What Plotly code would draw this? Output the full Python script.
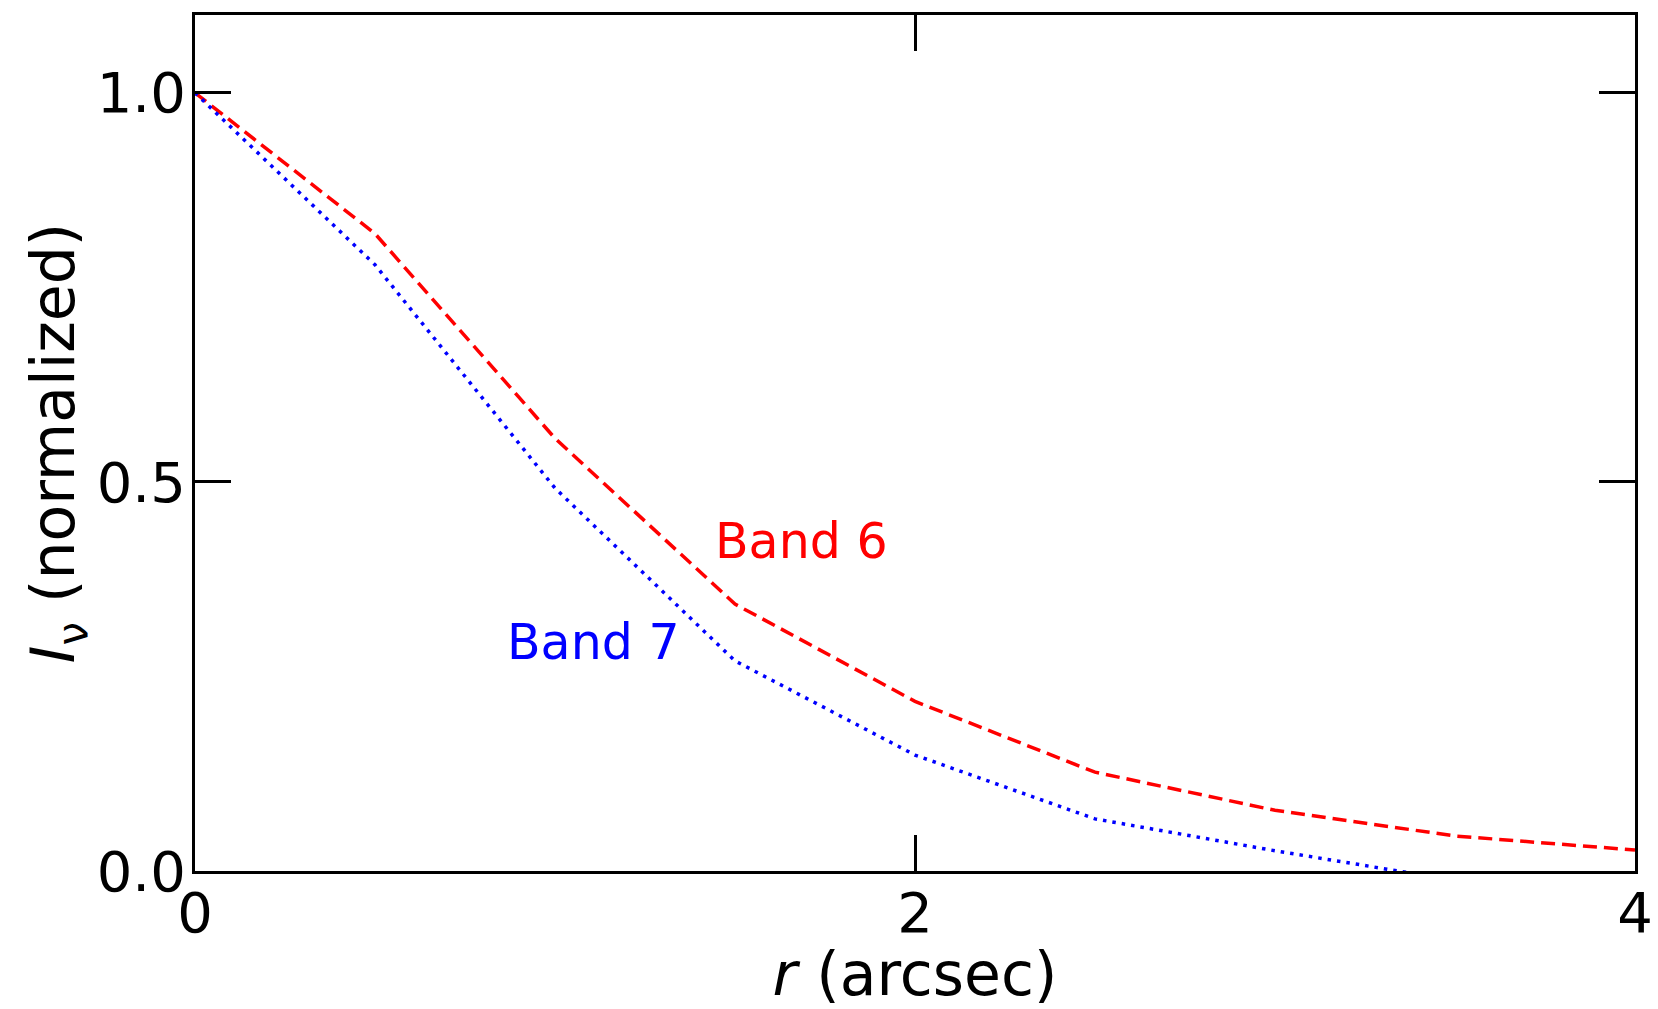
import plotly.graph_objects as go

r_arcsec = [0.0, 0.5, 1.0, 1.5, 2.0, 2.5, 3.0, 3.5, 4.0]
band6 = [1.0, 0.819, 0.556, 0.343, 0.218, 0.127, 0.078, 0.045, 0.027]
band7 = [1.0, 0.779, 0.492, 0.270, 0.149, 0.067, 0.026, -0.012, -0.04]

x_ticks = [0, 2, 4]
x_tick_labels = ["0", "2", "4"]
y_ticks = [0.0, 0.5, 1.0]
y_tick_labels = ["0.0", "0.5", "1.0"]

FONT = "DejaVu Sans"

fig = go.Figure()
fig.add_trace(go.Scatter(x=r_arcsec, y=band6, mode="lines",
                         line=dict(color="red", width=3.5, dash="14px,7px"),
                         name="Band 6", showlegend=False))
fig.add_trace(go.Scatter(x=r_arcsec, y=band7, mode="lines",
                         line=dict(color="blue", width=3.5, dash="3.5px,6px"),
                         name="Band 7", showlegend=False))

fig.add_annotation(x=1.44, y=0.423, text="Band 6", showarrow=False,
                   xanchor="left", yanchor="middle",
                   font=dict(family=FONT, size=49, color="red"))
fig.add_annotation(x=0.862, y=0.293, text="Band 7", showarrow=False,
                   xanchor="left", yanchor="middle",
                   font=dict(family=FONT, size=49, color="blue"))

axis_common = dict(showgrid=False, zeroline=False, showline=True, linecolor="black",
                   linewidth=3, mirror="ticks", ticks="inside", ticklen=36,
                   tickwidth=2.5, tickcolor="black", automargin=False,
                   tickfont=dict(family=FONT, size=56, color="black"))

fig.update_xaxes(range=[0, 4], tickvals=x_ticks, ticktext=x_tick_labels,
                 ticklabelstandoff=-9,
                 title=dict(text="<i>r</i> (arcsec)", font=dict(family=FONT, size=60, color="black"),
                            standoff=6),
                 **axis_common)
fig.update_yaxes(range=[0, 1.1], tickvals=y_ticks, ticktext=y_tick_labels,
                 ticklabelstandoff=-5,
                 title=dict(text="<i>I</i><sub>ν</sub> (normalized)",
                            font=dict(family=FONT, size=60, color="black"), standoff=2),
                 **axis_common)

fig.update_layout(width=1650, height=1001, plot_bgcolor="white", paper_bgcolor="white",
                  margin=dict(l=187, r=23, t=7, b=138),
                  font=dict(family=FONT, color="black"))

fig.write_html("out.html")
